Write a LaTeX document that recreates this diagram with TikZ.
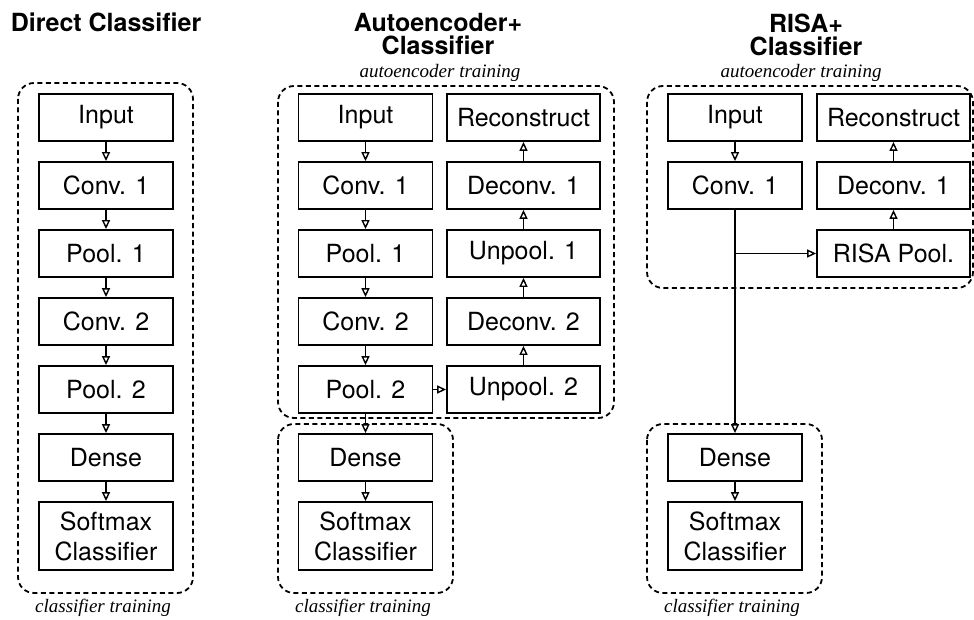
\documentclass[tikz,border=0pt]{standalone}
\usepackage{fontspec}
\setmainfont{TeX Gyre Heros}
\newfontfamily\itserif{Liberation Serif}
\usetikzlibrary{arrows.meta}
\begin{document}
\begin{tikzpicture}[x=1pt,y=-1pt,
  box/.style={draw, line width=1.8pt, inner sep=0pt, minimum width=134pt, minimum height=47pt, font=\fontsize{25}{30}\selectfont, align=center},
  wbox/.style={box, minimum width=153pt},
  tall/.style={minimum height=68pt},
  arr/.style={line width=1.5pt, -{Triangle[open, length=9pt, width=8pt, line width=1.4pt]}},
  cont/.style={draw, line width=1.8pt, rounded corners=16pt, dash pattern=on 5pt off 3.5pt},
  title/.style={font=\fontsize{25}{23}\selectfont\bfseries, align=center, inner sep=0pt},
  note/.style={font=\fontsize{19}{19}\selectfont\itserif\itshape, anchor=base, inner sep=0pt},
]
\useasboundingbox (0,0) rectangle (974,620);

% containers
\draw[cont] (18,83) rectangle (193,593);
\draw[cont] (278,86) rectangle (614,418);
\draw[cont] (278,424) rectangle (453,593);
\draw[cont] (647,86) rectangle (973,288);
\draw[cont] (647,424) rectangle (822,593);

% titles
\node[title, anchor=base] (t1) at (106,32) {Direct Classifier};
\node[title] (t2) at (438,34.5) {Autoencoder+\\Classifier};
\node[title] (t3) at (806,34.5) {RISA+\\Classifier};

% notes
\node[note] (a1) at (440,78) {autoencoder training};
\node[note] (a2) at (801,78) {autoencoder training};
\node[note] (c1) at (103,612) {classifier training};
\node[note] (c2) at (363,612) {classifier training};
\node[note] (c3) at (732,612) {classifier training};

% Direct classifier
\node[box] (d1) at (106,117.5) {Input};
\node[box] (d2) at (106,185.5) {Conv. 1};
\node[box] (d3) at (106,253.5) {Pool. 1};
\node[box] (d4) at (106,321.5) {Conv. 2};
\node[box] (d5) at (106,389.5) {Pool. 2};
\node[box] (d6) at (106,457.5) {Dense};
\node[box, tall] (d7) at (106,536) {Softmax\\Classifier};
\foreach \a/\b in {d1/d2,d2/d3,d3/d4,d4/d5,d5/d6,d6/d7}
  \draw[arr] (\a) -- (\b);

% Autoencoder + classifier
\node[box] (m1) at (365.5,117.5) {Input};
\node[box] (m2) at (365.5,185.5) {Conv. 1};
\node[box] (m3) at (365.5,253.5) {Pool. 1};
\node[box] (m4) at (365.5,321.5) {Conv. 2};
\node[box] (m5) at (365.5,389.5) {Pool. 2};
\node[box] (mD) at (365.5,457.5) {Dense};
\node[box, tall] (mS) at (365.5,536) {Softmax\\Classifier};
\node[wbox] (r1) at (523.5,117.5) {Reconstruct};
\node[wbox] (r2) at (523.5,185.5) {Deconv. 1};
\node[wbox] (r3) at (523.5,253.5) {Unpool. 1};
\node[wbox] (r4) at (523.5,321.5) {Deconv. 2};
\node[wbox] (r5) at (523.5,389.5) {Unpool. 2};
\foreach \a/\b in {m1/m2,m2/m3,m3/m4,m4/m5,m5/mD,mD/mS,m5/r5,r5/r4,r4/r3,r3/r2,r2/r1}
  \draw[arr] (\a) -- (\b);

% RISA + classifier
\node[box] (q1) at (735,117.5) {Input};
\node[box] (q2) at (735,185.5) {Conv. 1};
\node[box] (qD) at (735,457.5) {Dense};
\node[box, tall] (qS) at (735,536) {Softmax\\Classifier};
\node[wbox] (p1) at (893.5,117.5) {Reconstruct};
\node[wbox] (p2) at (893.5,185.5) {Deconv. 1};
\node[wbox] (p3) at (893.5,253.5) {RISA Pool.};
\coordinate (br) at (735,253.5);
\foreach \a/\b in {q1/q2,q2/qD,qD/qS,p3/p2,p2/p1}
  \draw[arr] (\a) -- (\b);
\draw[arr] (br) -- (p3);
\end{tikzpicture}
\end{document}
